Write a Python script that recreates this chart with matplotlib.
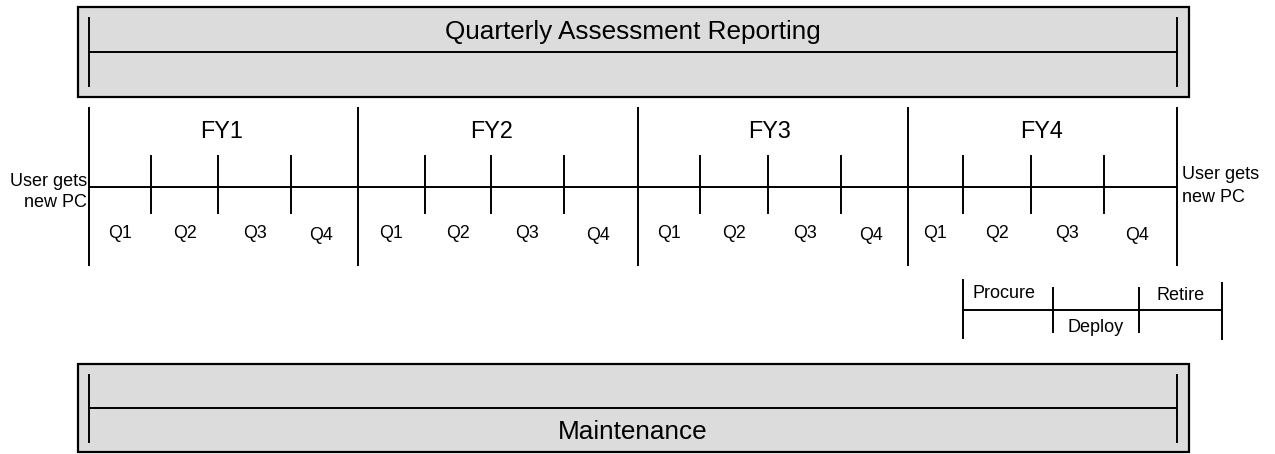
import matplotlib
matplotlib.use("Agg")
import matplotlib.pyplot as plt
from matplotlib.patches import Rectangle

plt.rcParams['font.family'] = ['Liberation Sans', 'DejaVu Sans']

# ---- content ----
fiscal_years = ["FY1", "FY2", "FY3", "FY4"]
fy_label_pos = [222, 492, 770, 1042]
quarters = ["Q1", "Q2", "Q3", "Q4"]
# boundaries of fiscal years along the timeline (timeline units)
fy_bounds = [89, 358, 638, 908, 1177]
# inner quarter boundaries per fiscal year
q_ticks = [[151, 218, 291], [425, 491, 564], [700, 768, 841], [963, 1031, 1104]]
top_band_label = "Quarterly Assessment Reporting"
bottom_band_label = "Maintenance"
endpoint_label = "User gets\nnew PC"
phase_labels = ["Procure", "Deploy", "Retire"]
phase_bounds = [963, 1053, 1139, 1222]

fig = plt.figure(figsize=(12.75, 4.54), dpi=100)
ax = fig.add_axes([0, 0, 1, 1])
ax.set_xlim(0, 1275)
ax.set_ylim(454, 0)
ax.axis('off')

lw = 1.4
fill = '#dcdcdc'

def band(y0, y1, line_y, v0, v1, label, label_y):
    ax.add_patch(Rectangle((78, y0), 1189 - 78, y1 - y0, facecolor=fill,
                           edgecolor='black', lw=1.6, zorder=1))
    ax.plot([fy_bounds[0], fy_bounds[-1]], [line_y, line_y], color='black', lw=lw, zorder=2)
    for x in (fy_bounds[0], fy_bounds[-1]):
        ax.plot([x, x], [v0, v1], color='black', lw=lw, zorder=2)
    ax.text((fy_bounds[0] + fy_bounds[-1]) / 2, label_y, label, ha='center', va='center',
            fontsize=18.8, zorder=3)

band(7, 97, 52, 18, 86, top_band_label, 32)
band(364, 452, 408, 375, 442, bottom_band_label, 432)

# main timeline
line_y = 187
ax.plot([fy_bounds[0], fy_bounds[-1]], [line_y, line_y], color='black', lw=lw)
for x in fy_bounds:
    ax.plot([x, x], [108, 265], color='black', lw=lw)
for i, fy in enumerate(fiscal_years):
    a, b = fy_bounds[i], fy_bounds[i + 1]
    ax.text(fy_label_pos[i], 131, fy, ha='center', va='center', fontsize=16.8)
    edges = [a] + q_ticks[i] + [b]
    for x in q_ticks[i]:
        ax.plot([x, x], [156, 213], color='black', lw=lw)
    for j, q in enumerate(quarters):
        ax.text((edges[j] + edges[j + 1]) / 2 - (3 if j == 3 else 0),
                233 + (3 if j == 3 else 0), q, ha='center', va='center', fontsize=12.8)

ax.text(87, 192, endpoint_label, ha='right', va='center', fontsize=13, linespacing=1.3)
ax.text(1182, 186, endpoint_label, ha='left', va='center', fontsize=13, linespacing=1.4)

# phases
py = 310
ax.plot([phase_bounds[0], phase_bounds[-1]], [py, py], color='black', lw=lw)
ax.plot([phase_bounds[0]] * 2, [280, 338], color='black', lw=lw)
ax.plot([phase_bounds[1]] * 2, [288, 332], color='black', lw=lw)
ax.plot([phase_bounds[2]] * 2, [288, 332], color='black', lw=lw)
ax.plot([phase_bounds[3]] * 2, [283, 339], color='black', lw=lw)
ys = [294, 328, 296]
for k, lab in enumerate(phase_labels):
    ax.text((phase_bounds[k] + phase_bounds[k + 1]) / 2 - (4 if k == 0 else 0), ys[k], lab,
            ha='center', va='center', fontsize=13)

fig.savefig('out.png', dpi=100)
